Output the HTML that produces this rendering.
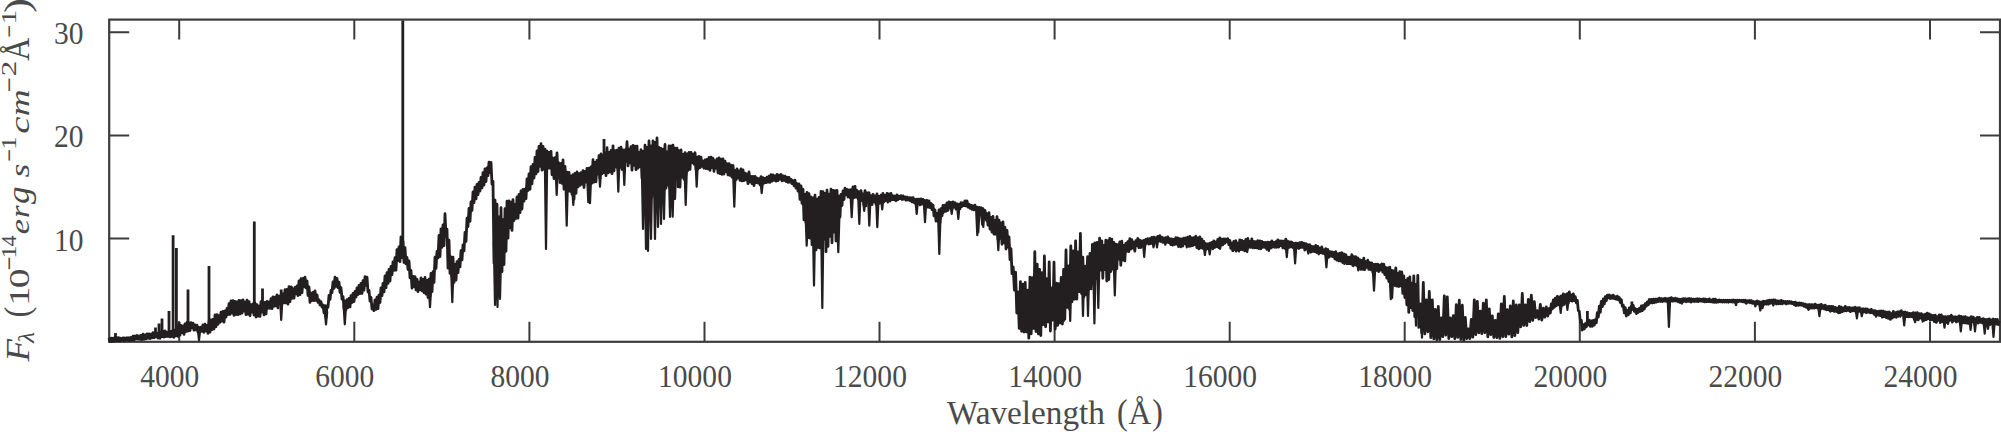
<!DOCTYPE html>
<html><head><meta charset="utf-8"><style>
html,body{margin:0;padding:0;background:#fff;width:2001px;height:432px;overflow:hidden}
svg{display:block}
text{font-family:"Liberation Serif",serif;fill:#4a4a4a}
</style></head><body>
<svg width="2001" height="432" viewBox="0 0 2001 432" font-size="30">
<rect x="109.2" y="19.6" width="1890.8" height="322.2" fill="none" stroke="#3c3c3c" stroke-width="2.2"/><path d="M179.2 341.8V321.8M179.2 19.6V39.6M354.3 341.8V321.8M354.3 19.6V39.6M529.4 341.8V321.8M529.4 19.6V39.6M704.5 341.8V321.8M704.5 19.6V39.6M879.5 341.8V321.8M879.5 19.6V39.6M1054.6 341.8V321.8M1054.6 19.6V39.6M1229.7 341.8V321.8M1229.7 19.6V39.6M1404.7 341.8V321.8M1404.7 19.6V39.6M1579.8 341.8V321.8M1579.8 19.6V39.6M1754.9 341.8V321.8M1754.9 19.6V39.6M1930.0 341.8V321.8M1930.0 19.6V39.6M109.2 238.6H129.2M2000.0 238.6H1980.0M109.2 135.4H129.2M2000.0 135.4H1980.0M109.2 32.2H129.2M2000.0 32.2H1980.0" stroke="#3c3c3c" stroke-width="2" fill="none"/><text x="169.7" y="387" text-anchor="middle" font-size="31" textLength="59.0" lengthAdjust="spacingAndGlyphs">4000</text><text x="344.8" y="387" text-anchor="middle" font-size="31" textLength="59.0" lengthAdjust="spacingAndGlyphs">6000</text><text x="519.9" y="387" text-anchor="middle" font-size="31" textLength="59.0" lengthAdjust="spacingAndGlyphs">8000</text><text x="695.0" y="387" text-anchor="middle" font-size="31" textLength="73.8" lengthAdjust="spacingAndGlyphs">10000</text><text x="870.0" y="387" text-anchor="middle" font-size="31" textLength="73.8" lengthAdjust="spacingAndGlyphs">12000</text><text x="1045.1" y="387" text-anchor="middle" font-size="31" textLength="73.8" lengthAdjust="spacingAndGlyphs">14000</text><text x="1220.2" y="387" text-anchor="middle" font-size="31" textLength="73.8" lengthAdjust="spacingAndGlyphs">16000</text><text x="1395.2" y="387" text-anchor="middle" font-size="31" textLength="73.8" lengthAdjust="spacingAndGlyphs">18000</text><text x="1570.3" y="387" text-anchor="middle" font-size="31" textLength="73.8" lengthAdjust="spacingAndGlyphs">20000</text><text x="1745.4" y="387" text-anchor="middle" font-size="31" textLength="73.8" lengthAdjust="spacingAndGlyphs">22000</text><text x="1920.5" y="387" text-anchor="middle" font-size="31" textLength="73.8" lengthAdjust="spacingAndGlyphs">24000</text><text x="83.5" y="250.6" text-anchor="end" font-size="31" textLength="29.5" lengthAdjust="spacingAndGlyphs">10</text><text x="83.5" y="147.4" text-anchor="end" font-size="31" textLength="29.5" lengthAdjust="spacingAndGlyphs">20</text><text x="83.5" y="44.2" text-anchor="end" font-size="31" textLength="29.5" lengthAdjust="spacingAndGlyphs">30</text><g transform="translate(28.5,361) rotate(-90)"><g transform="translate(-0.80,0.00) scale(1.222,1.110)"><text x="0.16" y="0" font-size="30" font-style="italic">F</text></g><g transform="translate(17.30,5.80) scale(0.848,0.791)"><text x="0.73" y="0" font-size="30" font-style="italic">λ</text></g><g transform="translate(45.00,0.70) scale(1.090,1.224)"><text x="-1.32" y="0" font-size="30">(</text></g><g transform="translate(58.70,0.00) scale(1.278,1.010)"><text x="-2.64" y="0" font-size="30">1</text></g><g transform="translate(74.30,0.00) scale(1.313,1.003)"><text x="-1.14" y="0" font-size="30">0</text></g><g transform="translate(92.00,-9.44) scale(0.824,1.000)"><text x="-1.49" y="0" font-size="30">−</text></g><g transform="translate(104.50,-12.90) scale(0.899,0.687)"><text x="-2.64" y="0" font-size="30">1</text></g><g transform="translate(115.00,-12.90) scale(0.746,0.689)"><text x="-0.59" y="0" font-size="30">4</text></g><g transform="translate(127.70,0.00) scale(1.152,0.880)"><text x="-0.92" y="0" font-size="30" font-style="italic">e</text></g><g transform="translate(144.30,0.00) scale(1.090,0.884)"><text x="-1.22" y="0" font-size="30" font-style="italic">r</text></g><g transform="translate(157.00,0.00) scale(1.170,1.068)"><text x="-0.01" y="0" font-size="30" font-style="italic">g</text></g><g transform="translate(184.00,0.00) scale(1.192,0.880)"><text x="-0.37" y="0" font-size="30" font-style="italic">s</text></g><g transform="translate(200.60,-9.44) scale(0.745,1.000)"><text x="-1.49" y="0" font-size="30">−</text></g><g transform="translate(213.50,-12.90) scale(0.899,0.687)"><text x="-2.64" y="0" font-size="30">1</text></g><g transform="translate(228.50,0.00) scale(1.292,0.880)"><text x="-0.92" y="0" font-size="30" font-style="italic">c</text></g><g transform="translate(246.20,0.00) scale(1.242,0.884)"><text x="-1.08" y="0" font-size="30" font-style="italic">m</text></g><g transform="translate(270.20,-9.44) scale(0.895,1.000)"><text x="-1.49" y="0" font-size="30">−</text></g><g transform="translate(286.00,-12.90) scale(1.039,0.685)"><text x="-1.32" y="0" font-size="30">2</text></g><g transform="translate(300.60,0.00) scale(1.064,1.167)"><text x="-0.29" y="0" font-size="30">Å</text></g><g transform="translate(324.50,-9.44) scale(0.752,1.000)"><text x="-1.49" y="0" font-size="30">−</text></g><g transform="translate(339.10,-12.90) scale(0.985,0.687)"><text x="-2.64" y="0" font-size="30">1</text></g><g transform="translate(349.50,0.70) scale(1.493,1.187)"><text x="-0.97" y="0" font-size="30">)</text></g></g><g transform="translate(947,423.6) scale(1.0,1.0)"><text x="-0.03" y="0" font-size="33" textLength="157.9" lengthAdjust="spacingAndGlyphs">Wavelength</text></g><g transform="translate(1118.50,423.70) scale(1.064,1.202)"><text x="-1.32" y="0" font-size="30">(</text></g><g transform="translate(1128.80,423.60) scale(1.054,1.151)"><text x="-0.29" y="0" font-size="30">Å</text></g><g transform="translate(1153.30,423.70) scale(1.064,1.202)"><text x="-0.97" y="0" font-size="30">)</text></g><path d="M109.0 337.8 110.0 341.4 111.0 338.2 112.0 341.5 113.0 338.1 114.0 341.1 115.0 337.5 116.0 340.9 117.0 337.6 118.0 340.9 119.0 337.8 120.0 341.1 121.0 338.3 122.0 340.3 123.0 337.9 124.0 340.7 125.0 338.0 126.0 339.8 127.0 337.7 128.0 340.2 129.0 337.8 130.0 340.5 131.0 337.4 132.0 340.0 133.0 336.2 134.0 340.1 135.0 336.0 136.0 339.0 137.0 335.5 138.0 339.2 139.0 335.9 140.0 339.3 141.0 335.4 142.0 339.7 143.0 334.2 144.0 339.3 145.0 334.9 146.0 338.8 147.0 333.9 148.0 338.3 149.0 333.8 150.0 338.7 151.0 334.1 152.0 337.8 153.0 332.6 154.0 337.8 155.0 332.9 156.0 337.0 157.0 333.0 158.0 338.1 159.0 333.3 160.0 338.3 161.0 331.8 162.0 336.7 163.0 331.1 164.0 337.1 165.0 330.8 166.0 336.5 167.0 332.2 168.0 336.5 169.0 332.4 170.0 336.9 171.0 331.5 172.0 336.6 173.0 330.2 174.0 337.4 175.0 330.2 176.0 335.9 177.0 326.6 178.0 336.4 179.0 322.7 180.0 335.0 181.0 325.4 182.0 332.6 183.0 325.8 184.0 334.4 185.0 323.8 186.0 331.7 187.0 322.5 188.0 331.1 189.0 322.9 190.0 330.7 191.0 322.6 192.0 327.9 193.0 323.2 194.0 330.2 195.0 324.8 196.0 329.9 197.0 325.2 198.0 332.0 199.0 327.3 200.0 331.5 201.0 327.1 202.0 331.3 203.0 324.8 204.0 332.4 205.0 324.1 206.0 330.8 207.0 325.3 208.0 333.3 209.0 321.5 210.0 332.2 211.0 319.8 212.0 329.6 213.0 319.4 214.0 328.9 215.0 315.0 216.0 326.6 217.0 314.7 218.0 324.4 219.0 315.6 220.0 322.3 221.0 312.2 222.0 321.1 223.0 311.4 224.0 322.1 225.0 310.9 226.0 317.0 227.0 308.3 228.0 314.7 229.0 303.6 230.0 314.4 231.0 300.9 232.0 313.0 233.0 300.7 234.0 315.3 235.0 301.4 236.0 314.5 237.0 301.9 238.0 314.7 239.0 300.4 240.0 313.9 241.0 300.6 242.0 313.2 243.0 299.8 244.0 311.0 245.0 302.1 246.0 314.7 247.0 300.1 248.0 314.1 249.0 301.6 250.0 315.7 251.0 304.7 252.0 312.0 253.0 303.8 254.0 314.9 255.0 303.0 256.0 317.0 257.0 304.7 258.0 316.2 259.0 306.1 260.0 316.3 261.0 301.6 262.0 312.2 263.0 303.1 264.0 314.8 265.0 302.3 266.0 313.8 267.0 301.4 268.0 308.4 269.0 301.8 270.0 308.3 271.0 298.6 272.0 308.7 273.0 296.9 274.0 306.4 275.0 297.1 276.0 305.8 277.0 294.9 278.0 307.9 279.0 296.1 280.0 303.5 281.0 295.1 282.0 303.6 283.0 293.9 284.0 302.8 285.0 289.7 286.0 302.8 287.0 289.4 288.0 304.1 289.0 286.7 290.0 301.7 291.0 286.9 292.0 298.4 293.0 289.1 294.0 298.1 295.0 287.5 296.0 293.8 297.0 286.0 298.0 295.5 299.0 280.8 300.0 294.7 301.0 278.7 302.0 292.6 303.0 278.4 304.0 286.8 305.0 277.2 306.0 287.9 307.0 280.8 308.0 295.5 309.0 287.0 310.0 302.4 311.0 293.2 312.0 300.6 313.0 292.3 314.0 300.7 315.0 290.8 316.0 300.4 317.0 294.8 318.0 302.3 319.0 299.7 320.0 305.0 321.0 301.7 322.0 307.0 323.0 304.9 324.0 312.8 325.0 305.7 326.0 317.1 327.0 305.6 328.0 307.2 329.0 295.3 330.0 299.5 331.0 290.5 332.0 292.5 333.0 281.9 334.0 288.4 335.0 277.2 336.0 286.3 337.0 278.5 338.0 287.5 339.0 282.1 340.0 292.3 341.0 287.5 342.0 299.1 343.0 296.5 344.0 308.2 345.0 301.1 346.0 309.8 347.0 299.7 348.0 307.6 349.0 298.3 350.0 306.9 351.0 295.6 352.0 302.5 353.0 293.5 354.0 301.6 355.0 291.4 356.0 297.2 357.0 287.8 358.0 294.5 359.0 285.4 360.0 293.6 361.0 283.3 362.0 293.3 363.0 280.7 364.0 290.2 365.0 276.7 366.0 285.4 367.0 277.2 368.0 292.0 369.0 290.2 370.0 301.2 371.0 297.4 372.0 309.0 373.0 304.9 374.0 310.7 375.0 299.9 376.0 309.4 377.0 297.1 378.0 308.6 379.0 295.2 380.0 302.5 381.0 287.8 382.0 295.6 383.0 283.4 384.0 291.9 385.0 276.0 386.0 287.6 387.0 272.6 388.0 283.3 389.0 269.4 390.0 281.0 391.0 266.4 392.0 274.6 393.0 261.8 394.0 270.4 395.0 257.6 396.0 270.2 397.0 249.6 398.0 260.5 399.0 246.9 400.0 261.6 401.0 236.9 402.0 257.7 403.0 241.5 404.0 262.5 405.0 247.7 406.0 263.8 407.0 257.5 408.0 269.3 409.0 260.9 410.0 277.8 411.0 270.3 412.0 288.2 413.0 276.5 414.0 286.7 415.0 276.7 416.0 289.8 417.0 279.2 418.0 291.7 419.0 282.1 420.0 289.5 421.0 277.9 422.0 290.8 423.0 279.5 424.0 292.7 425.0 277.5 426.0 294.2 427.0 280.4 428.0 297.5 429.0 279.2 430.0 296.1 431.0 273.4 432.0 291.7 433.0 271.7 434.0 282.4 435.0 257.2 436.0 268.4 437.0 251.3 438.0 257.9 439.0 235.5 440.0 256.5 441.0 228.9 442.0 247.3 443.0 224.8 444.0 245.6 445.0 213.7 446.0 236.4 447.0 229.2 448.0 268.2 449.0 240.2 450.0 273.4 451.0 256.8 452.0 276.7 453.0 257.2 454.0 282.3 455.0 264.3 456.0 280.1 457.0 261.7 458.0 272.7 459.0 259.3 460.0 266.8 461.0 250.6 462.0 259.8 463.0 244.9 464.0 250.9 465.0 232.3 466.0 241.4 467.0 218.2 468.0 226.5 469.0 208.4 470.0 221.3 471.0 201.9 472.0 210.3 473.0 192.0 474.0 202.6 475.0 187.2 476.0 198.8 477.0 184.4 478.0 194.6 479.0 182.5 480.0 191.0 481.0 177.3 482.0 187.8 483.0 172.7 484.0 185.0 485.0 168.9 486.0 181.5 487.0 167.9 488.0 175.6 489.0 162.2 490.0 172.5 491.0 162.3 492.0 184.1 493.0 181.2 494.0 263.2 495.0 200.1 496.0 274.8 497.0 204.2 498.0 289.2 499.0 216.8 500.0 272.4 501.0 207.7 502.0 271.7 503.0 219.7 504.0 264.5 505.0 208.6 506.0 251.3 507.0 201.2 508.0 238.1 509.0 200.9 510.0 227.8 511.0 202.1 512.0 230.4 513.0 199.6 514.0 220.5 515.0 204.4 516.0 218.4 517.0 196.8 518.0 218.2 519.0 194.4 520.0 212.7 521.0 190.9 522.0 209.0 523.0 189.3 524.0 201.2 525.0 189.1 526.0 198.7 527.0 178.9 528.0 190.5 529.0 174.0 530.0 189.3 531.0 166.6 532.0 183.8 533.0 164.4 534.0 178.0 535.0 157.4 536.0 173.9 537.0 150.9 538.0 171.5 539.0 146.4 540.0 166.4 541.0 143.7 542.0 170.2 543.0 146.3 544.0 169.3 545.0 149.1 546.0 167.6 547.0 151.2 548.0 168.1 549.0 152.5 550.0 168.1 551.0 151.3 552.0 174.8 553.0 158.1 554.0 178.6 555.0 157.6 556.0 176.9 557.0 152.9 558.0 177.7 559.0 162.9 560.0 182.5 561.0 163.5 562.0 183.4 563.0 159.9 564.0 189.3 565.0 166.3 566.0 188.9 567.0 172.1 568.0 190.8 569.0 172.4 570.0 191.3 571.0 175.9 572.0 194.2 573.0 174.6 574.0 199.1 575.0 173.3 576.0 193.3 577.0 172.0 578.0 186.9 579.0 173.6 580.0 185.3 581.0 172.7 582.0 184.2 583.0 170.7 584.0 187.5 585.0 171.4 586.0 182.2 587.0 168.3 588.0 182.7 589.0 168.2 590.0 185.1 591.0 167.0 592.0 183.1 593.0 159.7 594.0 182.1 595.0 162.4 596.0 181.8 597.0 160.3 598.0 174.0 599.0 155.7 600.0 178.5 601.0 153.8 602.0 173.8 603.0 155.4 604.0 172.6 605.0 153.0 606.0 175.6 607.0 147.7 608.0 172.9 609.0 152.4 610.0 171.9 611.0 150.5 612.0 173.7 613.0 145.9 614.0 170.9 615.0 150.6 616.0 166.8 617.0 150.2 618.0 169.4 619.0 148.2 620.0 167.3 621.0 147.2 622.0 169.5 623.0 150.0 624.0 168.2 625.0 150.0 626.0 161.4 627.0 141.7 628.0 165.9 629.0 149.1 630.0 162.8 631.0 146.7 632.0 170.1 633.0 145.4 634.0 165.3 635.0 146.1 636.0 169.8 637.0 146.1 638.0 168.1 639.0 152.3 640.0 166.7 641.0 149.6 642.0 178.3 643.0 151.3 644.0 183.6 645.0 145.1 646.0 184.8 647.0 147.4 648.0 202.1 649.0 140.9 650.0 195.1 651.0 145.8 652.0 196.9 653.0 141.0 654.0 194.2 655.0 142.3 656.0 183.4 657.0 138.0 658.0 183.3 659.0 147.3 660.0 192.5 661.0 148.5 662.0 182.6 663.0 149.2 664.0 189.8 665.0 144.5 666.0 188.2 667.0 151.9 668.0 185.2 669.0 145.8 670.0 187.9 671.0 145.8 672.0 192.7 673.0 145.2 674.0 180.3 675.0 148.1 676.0 178.4 677.0 148.1 678.0 186.8 679.0 150.7 680.0 187.1 681.0 149.8 682.0 177.3 683.0 154.5 684.0 179.3 685.0 152.7 686.0 174.5 687.0 154.0 688.0 170.3 689.0 152.3 690.0 169.3 691.0 152.4 692.0 162.7 693.0 154.1 694.0 164.0 695.0 152.6 696.0 169.3 697.0 157.1 698.0 168.8 699.0 156.3 700.0 167.7 701.0 157.2 702.0 166.3 703.0 161.1 704.0 168.2 705.0 160.0 706.0 168.7 707.0 159.4 708.0 168.9 709.0 157.5 710.0 170.4 711.0 157.2 712.0 167.5 713.0 158.2 714.0 171.4 715.0 160.6 716.0 168.0 717.0 158.8 718.0 172.9 719.0 157.9 720.0 173.7 721.0 159.1 722.0 174.3 723.0 159.0 724.0 174.0 725.0 161.1 726.0 171.5 727.0 163.6 728.0 174.9 729.0 163.6 730.0 175.3 731.0 165.1 732.0 177.1 733.0 165.5 734.0 178.3 735.0 170.4 736.0 179.6 737.0 169.0 738.0 178.1 739.0 170.8 740.0 180.4 741.0 168.8 742.0 180.8 743.0 169.8 744.0 180.6 745.0 173.1 746.0 179.8 747.0 174.0 748.0 183.7 749.0 172.0 750.0 181.9 751.0 176.3 752.0 183.5 753.0 176.5 754.0 185.6 755.0 176.3 756.0 182.7 757.0 178.0 758.0 183.0 759.0 178.7 760.0 184.9 761.0 176.6 762.0 185.1 763.0 177.6 764.0 183.2 765.0 178.3 766.0 182.7 767.0 177.1 768.0 182.2 769.0 176.2 770.0 182.4 771.0 174.7 772.0 181.2 773.0 175.0 774.0 180.3 775.0 175.8 776.0 181.2 777.0 174.3 778.0 180.7 779.0 175.2 780.0 179.1 781.0 174.3 782.0 180.9 783.0 175.8 784.0 180.4 785.0 176.2 786.0 181.5 787.0 177.2 788.0 182.4 789.0 177.3 790.0 182.1 791.0 179.4 792.0 183.6 793.0 180.5 794.0 185.8 795.0 180.2 796.0 188.2 797.0 183.5 798.0 191.0 799.0 184.0 800.0 199.4 801.0 186.0 802.0 203.3 803.0 189.1 804.0 219.9 805.0 194.3 806.0 222.7 807.0 192.3 808.0 237.6 809.0 193.7 810.0 238.1 811.0 196.8 812.0 244.8 813.0 197.8 814.0 240.3 815.0 195.2 816.0 249.9 817.0 199.2 818.0 247.5 819.0 197.3 820.0 248.0 821.0 191.3 822.0 241.0 823.0 191.7 824.0 239.0 825.0 193.4 826.0 251.7 827.0 190.2 828.0 246.4 829.0 194.1 830.0 236.4 831.0 189.2 832.0 242.8 833.0 190.5 834.0 232.1 835.0 190.6 836.0 241.0 837.0 190.4 838.0 231.5 839.0 196.1 840.0 217.0 841.0 194.3 842.0 205.5 843.0 190.9 844.0 199.5 845.0 188.1 846.0 194.6 847.0 189.3 848.0 197.0 849.0 189.8 850.0 197.3 851.0 189.7 852.0 198.2 853.0 186.9 854.0 197.6 855.0 186.3 856.0 197.0 857.0 190.3 858.0 198.7 859.0 191.7 860.0 200.1 861.0 190.7 862.0 200.7 863.0 193.8 864.0 205.5 865.0 190.7 866.0 205.9 867.0 193.0 868.0 202.1 869.0 192.7 870.0 203.2 871.0 195.7 872.0 204.5 873.0 194.3 874.0 201.8 875.0 195.9 876.0 204.4 877.0 193.8 878.0 204.2 879.0 196.3 880.0 203.0 881.0 195.2 882.0 200.3 883.0 193.3 884.0 201.9 885.0 195.3 886.0 200.6 887.0 193.5 888.0 200.1 889.0 193.9 890.0 201.1 891.0 193.4 892.0 199.7 893.0 195.8 894.0 199.8 895.0 196.0 896.0 200.8 897.0 194.8 898.0 199.6 899.0 196.3 900.0 198.6 901.0 195.6 902.0 199.5 903.0 195.9 904.0 199.2 905.0 196.9 906.0 200.2 907.0 197.2 908.0 200.0 909.0 197.6 910.0 200.6 911.0 197.7 912.0 201.9 913.0 197.6 914.0 202.6 915.0 199.3 916.0 204.1 917.0 199.1 918.0 203.4 919.0 199.2 920.0 204.9 921.0 198.8 922.0 204.1 923.0 199.4 924.0 203.5 925.0 200.5 926.0 204.1 927.0 200.3 928.0 207.2 929.0 201.0 930.0 207.5 931.0 203.3 932.0 209.5 933.0 205.0 934.0 215.8 935.0 210.0 936.0 221.0 937.0 213.5 938.0 221.4 939.0 209.9 940.0 222.7 941.0 208.6 942.0 215.9 943.0 205.5 944.0 211.6 945.0 205.1 946.0 211.3 947.0 202.9 948.0 210.4 949.0 201.9 950.0 207.8 951.0 202.3 952.0 208.7 953.0 201.9 954.0 207.1 955.0 202.7 956.0 209.0 957.0 203.9 958.0 208.2 959.0 204.3 960.0 208.7 961.0 202.7 962.0 206.5 963.0 202.9 964.0 205.6 965.0 200.9 966.0 206.0 967.0 200.9 968.0 207.1 969.0 204.2 970.0 208.3 971.0 205.3 972.0 209.3 973.0 205.8 974.0 209.8 975.0 205.2 976.0 209.8 977.0 207.1 978.0 212.0 979.0 207.4 980.0 211.9 981.0 207.7 982.0 213.3 983.0 208.5 984.0 215.8 985.0 210.4 986.0 219.2 987.0 213.6 988.0 225.2 989.0 212.7 990.0 229.2 991.0 217.5 992.0 232.1 993.0 216.5 994.0 234.2 995.0 220.5 996.0 234.2 997.0 216.7 998.0 239.5 999.0 220.1 1000.0 238.4 1001.0 223.0 1002.0 244.3 1003.0 222.0 1004.0 242.8 1005.0 227.5 1006.0 249.0 1007.0 230.3 1008.0 247.2 1009.0 236.8 1010.0 259.6 1011.0 248.7 1012.0 273.6 1013.2 267.0 1014.4 290.1 1015.6 272.1 1016.8 313.0 1018.0 291.9 1019.2 328.4 1020.4 281.6 1021.6 331.3 1022.8 284.2 1024.0 332.0 1025.2 282.3 1026.4 331.9 1027.6 290.2 1028.8 338.2 1030.0 277.1 1031.2 333.8 1032.4 277.6 1033.6 328.4 1034.8 251.7 1036.0 331.6 1037.2 264.2 1038.4 333.9 1039.6 269.5 1040.8 335.5 1042.0 272.6 1043.2 324.6 1044.4 255.9 1045.6 326.8 1046.8 278.7 1048.0 321.9 1049.2 262.0 1050.4 331.0 1051.6 288.0 1052.8 320.0 1054.0 262.1 1055.2 329.0 1056.4 283.1 1057.6 325.3 1058.8 283.6 1060.0 323.0 1061.2 277.3 1062.4 324.0 1063.6 269.3 1064.8 319.3 1066.0 249.9 1067.2 307.4 1068.4 265.9 1069.6 309.1 1070.8 245.8 1072.0 301.8 1073.2 251.0 1074.4 299.2 1075.6 240.8 1076.8 299.1 1078.0 252.0 1079.2 291.5 1080.4 233.5 1081.6 293.6 1082.8 257.1 1084.0 296.8 1085.2 266.2 1086.4 294.5 1087.6 256.7 1088.8 289.4 1090.0 253.4 1091.2 288.9 1092.4 244.5 1093.6 284.0 1094.8 242.9 1096.0 278.8 1097.2 242.4 1098.4 275.7 1099.6 238.2 1100.8 270.1 1101.8 240.9 1102.8 278.3 1103.8 245.5 1104.8 269.7 1105.8 240.1 1106.8 281.0 1107.8 240.7 1108.8 279.5 1109.8 238.5 1110.8 271.5 1111.8 239.1 1112.8 269.0 1113.8 242.3 1114.8 271.9 1115.8 244.1 1116.8 268.8 1117.8 244.7 1118.8 259.2 1119.8 241.8 1120.8 265.3 1121.8 241.2 1122.8 260.2 1123.8 245.4 1124.8 260.8 1125.8 243.5 1126.8 251.4 1127.8 241.7 1128.8 251.6 1129.8 238.6 1130.8 249.1 1131.8 239.6 1132.8 248.0 1133.8 242.1 1134.8 251.0 1135.8 240.7 1136.8 245.7 1137.8 238.4 1138.8 247.5 1139.8 240.2 1140.8 247.6 1141.8 240.9 1142.8 246.3 1143.8 240.4 1144.8 245.7 1145.8 239.5 1146.8 243.2 1147.8 238.6 1148.8 244.1 1149.8 238.7 1150.8 243.6 1151.8 237.3 1152.8 243.4 1153.8 237.1 1154.8 241.5 1155.8 237.8 1156.8 241.1 1157.8 236.3 1158.8 240.9 1159.8 235.7 1160.8 241.4 1161.8 237.1 1162.8 242.4 1163.8 238.0 1164.8 242.5 1165.8 237.7 1166.8 242.3 1167.8 237.0 1168.8 242.6 1169.8 238.6 1170.8 244.5 1171.8 239.0 1172.8 245.1 1173.8 239.5 1174.8 244.5 1175.8 237.7 1176.8 244.2 1177.8 237.8 1178.8 246.3 1179.8 238.6 1180.8 246.9 1181.8 238.9 1182.8 246.0 1183.8 238.2 1184.8 243.6 1185.8 238.0 1186.8 244.5 1187.8 237.2 1188.8 246.4 1189.8 236.3 1190.8 246.1 1191.8 238.0 1192.8 245.7 1193.8 237.6 1194.8 244.5 1195.8 236.2 1196.8 247.5 1197.8 238.0 1198.8 248.8 1199.8 236.9 1200.8 247.9 1201.8 239.2 1202.8 248.3 1203.8 241.5 1204.8 248.2 1205.8 243.5 1206.8 249.1 1207.8 243.9 1208.8 248.6 1209.8 243.2 1210.8 247.5 1211.8 242.4 1212.8 248.9 1213.8 240.9 1214.8 247.4 1215.8 241.9 1216.8 246.6 1217.8 239.5 1218.8 247.6 1219.8 237.8 1220.8 245.2 1221.8 239.1 1222.8 244.8 1223.8 238.9 1224.8 243.3 1225.8 239.0 1226.8 241.8 1227.8 238.7 1228.8 244.5 1229.8 240.3 1230.8 248.4 1231.8 243.2 1232.8 250.7 1233.8 241.5 1234.8 249.0 1235.8 240.7 1236.8 249.8 1237.8 243.2 1238.8 251.2 1239.8 239.9 1240.8 249.5 1241.8 240.5 1242.8 249.4 1243.8 241.4 1244.8 250.9 1245.8 239.4 1246.8 249.9 1247.8 238.5 1248.8 247.2 1249.8 241.3 1250.8 247.4 1251.8 238.8 1252.8 246.8 1253.8 241.4 1254.8 247.9 1255.8 241.7 1256.8 247.8 1257.8 240.6 1258.8 248.6 1259.8 241.0 1260.8 248.8 1261.8 241.3 1262.8 247.3 1263.8 242.3 1264.8 247.4 1265.8 242.4 1266.8 249.3 1267.8 242.1 1268.8 248.9 1269.8 242.5 1270.8 248.0 1271.8 240.8 1272.8 247.0 1273.8 242.3 1274.8 247.3 1275.8 241.7 1276.8 247.1 1277.8 240.0 1278.8 247.1 1279.8 241.0 1280.8 245.6 1281.8 240.8 1282.8 247.9 1283.8 241.1 1284.8 248.4 1285.8 239.1 1286.8 246.6 1287.8 241.1 1288.8 247.5 1289.8 241.9 1290.8 246.9 1291.8 242.0 1292.8 247.5 1293.8 243.3 1294.8 247.6 1295.8 243.1 1296.8 247.8 1297.8 243.3 1298.8 248.5 1299.8 242.6 1300.8 247.6 1301.8 242.3 1302.8 247.4 1303.8 243.1 1304.8 250.0 1305.8 243.6 1306.8 248.8 1307.8 244.7 1308.8 251.3 1309.8 244.6 1310.8 252.2 1311.8 246.4 1312.8 251.4 1313.8 246.7 1314.8 251.7 1315.8 245.3 1316.8 252.6 1317.8 246.4 1318.8 252.5 1319.8 248.2 1320.8 252.8 1321.8 247.0 1322.8 253.4 1323.8 249.9 1324.8 253.8 1325.8 248.6 1326.8 256.1 1327.8 249.3 1328.8 257.3 1329.8 251.7 1330.8 256.1 1331.8 251.8 1332.8 256.7 1333.8 252.4 1334.8 258.8 1335.8 251.6 1336.8 260.2 1337.8 253.9 1338.8 260.9 1339.8 253.1 1340.8 261.2 1341.8 252.7 1342.8 262.7 1343.8 253.9 1344.8 261.9 1345.8 254.7 1346.8 263.7 1347.8 257.1 1348.8 263.7 1349.8 257.2 1350.8 263.9 1351.8 254.7 1352.8 265.3 1353.8 256.6 1354.8 264.7 1355.8 256.7 1356.8 265.7 1357.8 257.8 1358.8 268.4 1359.8 259.6 1360.8 269.4 1361.8 260.3 1362.8 269.4 1363.8 258.1 1364.8 269.6 1365.8 261.7 1366.8 267.4 1367.8 260.2 1368.8 269.3 1369.8 262.7 1370.8 269.6 1371.8 262.8 1372.8 272.0 1373.8 264.4 1374.8 271.5 1375.8 264.2 1376.8 270.4 1377.8 264.2 1378.8 271.6 1379.8 265.1 1380.8 270.0 1381.8 263.8 1382.8 272.0 1383.8 264.1 1384.8 274.7 1385.8 267.5 1386.8 278.0 1387.8 268.0 1388.8 281.5 1389.8 267.2 1390.8 281.9 1391.8 270.4 1392.8 284.3 1393.8 270.8 1394.8 285.5 1395.8 267.8 1396.8 286.1 1397.8 273.5 1398.8 286.5 1399.8 271.6 1400.8 285.9 1401.8 272.0 1402.8 293.4 1403.8 276.0 1404.8 297.5 1405.8 280.5 1406.8 304.8 1407.8 278.3 1408.8 312.4 1409.8 277.0 1410.8 307.6 1411.8 283.2 1412.8 310.5 1413.8 275.8 1414.8 316.7 1415.8 284.5 1416.8 316.4 1417.8 275.4 1418.8 327.4 1420.3 304.0 1421.8 332.9 1423.3 282.5 1424.8 333.9 1426.3 299.8 1427.8 331.8 1429.3 291.5 1430.8 337.6 1432.3 299.9 1433.8 338.9 1435.3 309.3 1436.8 339.8 1438.3 306.5 1439.8 339.6 1441.3 318.0 1442.8 336.6 1444.3 295.9 1445.8 335.2 1447.3 296.8 1448.8 338.5 1450.3 317.8 1451.8 336.6 1453.3 315.7 1454.8 338.6 1456.3 304.7 1457.8 337.4 1459.3 300.2 1460.8 339.5 1462.3 305.2 1463.8 340.5 1465.3 317.4 1466.8 338.6 1468.3 329.0 1469.8 338.6 1471.3 319.3 1472.8 337.1 1474.3 299.8 1475.8 334.7 1477.3 301.3 1478.8 332.8 1480.3 311.1 1481.8 333.7 1483.3 303.2 1484.8 332.8 1486.3 299.8 1487.8 336.8 1489.3 309.0 1490.8 334.7 1492.3 315.9 1493.8 337.5 1495.3 320.4 1496.8 337.6 1498.3 313.8 1499.8 338.4 1501.3 304.0 1502.8 336.6 1504.3 296.5 1505.8 336.6 1507.3 309.7 1508.8 334.2 1510.3 305.8 1511.8 336.9 1513.3 301.0 1514.8 335.7 1516.3 305.0 1517.8 332.7 1519.3 304.8 1520.8 326.8 1522.3 293.5 1523.8 325.4 1525.3 304.8 1526.8 325.5 1528.3 299.5 1529.8 321.6 1531.3 295.1 1532.8 320.4 1534.3 301.6 1535.8 317.5 1537.3 310.6 1538.8 319.1 1540.3 304.4 1541.8 320.0 1543.3 308.1 1544.8 317.2 1546.3 306.9 1547.8 316.1 1549.3 308.3 1550.3 313.1 1551.3 303.8 1552.3 309.0 1553.3 299.9 1554.3 307.3 1555.3 298.1 1556.3 305.9 1557.3 296.5 1558.3 304.6 1559.3 296.9 1560.3 307.5 1561.3 295.9 1562.3 305.4 1563.3 294.0 1564.3 304.4 1565.3 294.7 1566.3 302.5 1567.3 293.7 1568.3 303.1 1569.3 291.9 1570.3 300.5 1571.3 295.0 1572.3 301.2 1573.3 293.8 1574.3 300.6 1575.3 296.7 1576.3 302.8 1577.3 300.4 1578.3 310.6 1579.3 311.2 1580.3 321.8 1581.3 320.1 1582.3 330.1 1583.3 324.6 1584.3 329.0 1585.3 323.6 1586.3 326.9 1587.3 320.7 1588.3 325.0 1589.3 320.2 1590.3 326.3 1591.3 320.8 1592.3 326.3 1593.3 320.5 1594.3 325.1 1595.3 319.6 1596.3 322.8 1597.3 312.7 1598.3 317.2 1599.3 306.1 1600.3 312.4 1601.3 301.5 1602.3 306.7 1603.3 298.8 1604.3 304.0 1605.3 296.7 1606.3 300.7 1607.3 295.1 1608.3 297.9 1609.3 295.0 1610.3 298.6 1611.3 295.8 1612.3 298.2 1613.3 295.1 1614.3 298.6 1615.3 296.7 1616.3 299.3 1617.3 296.2 1618.3 299.9 1619.3 297.5 1620.3 302.6 1621.3 299.6 1622.3 306.2 1623.3 305.3 1624.3 312.9 1625.3 307.7 1626.3 316.1 1627.3 310.5 1628.3 314.8 1629.3 308.0 1630.3 313.0 1631.3 306.3 1632.3 309.4 1633.3 305.4 1634.3 311.3 1635.3 308.6 1636.3 313.6 1637.3 309.3 1638.3 312.3 1639.3 308.4 1640.3 311.4 1641.3 306.0 1642.3 310.7 1643.3 305.5 1644.3 309.1 1645.3 303.6 1646.3 306.3 1647.3 301.9 1648.3 304.7 1649.3 299.5 1650.3 303.0 1651.3 299.4 1652.3 303.0 1653.3 299.2 1654.3 302.7 1655.3 299.1 1656.3 302.1 1657.3 299.0 1658.3 301.5 1659.3 298.2 1660.3 301.3 1661.3 298.6 1662.3 301.6 1663.3 298.7 1664.3 301.0 1665.3 298.2 1666.3 301.4 1667.3 298.8 1668.3 301.7 1669.3 298.3 1670.3 301.0 1671.3 297.6 1672.3 301.2 1673.3 298.6 1674.3 300.9 1675.3 298.3 1676.3 301.0 1677.3 298.7 1678.3 301.8 1679.3 299.3 1680.3 302.5 1681.3 299.2 1682.3 301.7 1683.3 298.6 1684.3 301.3 1685.3 298.7 1686.3 301.7 1687.3 298.9 1688.3 301.3 1689.3 298.5 1690.3 301.6 1691.3 298.7 1692.3 301.3 1693.3 299.1 1694.3 301.5 1695.3 299.1 1696.3 301.4 1697.3 298.8 1698.3 301.6 1699.3 298.9 1700.3 301.0 1701.3 299.2 1702.3 301.3 1703.3 298.9 1704.3 301.9 1705.3 299.0 1706.3 301.7 1707.3 299.5 1708.3 301.6 1709.3 298.9 1710.3 301.8 1711.3 299.9 1712.3 302.0 1713.3 299.1 1714.3 302.3 1715.3 299.2 1716.3 302.4 1717.3 300.2 1718.3 302.0 1719.3 300.0 1720.3 301.8 1721.3 300.3 1722.3 302.0 1723.3 300.2 1724.3 302.0 1725.3 300.3 1726.3 302.0 1727.3 300.3 1728.3 302.2 1729.3 300.2 1730.3 301.9 1731.3 300.3 1732.3 302.1 1733.3 299.9 1734.3 302.1 1735.3 300.3 1736.3 301.4 1737.3 300.2 1738.3 301.6 1739.3 300.2 1740.3 301.3 1741.3 300.2 1742.3 301.9 1743.3 300.2 1744.3 302.1 1745.3 300.3 1746.3 302.4 1747.3 300.7 1748.3 302.2 1749.3 300.4 1750.3 302.8 1751.3 300.6 1752.3 303.4 1753.3 301.4 1754.3 303.3 1755.3 301.7 1756.3 303.7 1757.3 301.0 1758.3 304.0 1759.3 301.7 1760.3 303.6 1761.3 302.0 1762.3 304.0 1763.3 301.2 1764.3 304.3 1765.3 301.3 1766.3 304.1 1767.3 300.6 1768.3 304.2 1769.3 300.2 1770.3 303.3 1771.3 300.2 1772.3 302.9 1773.3 299.9 1774.3 302.9 1775.3 300.0 1776.3 304.0 1777.3 300.9 1778.3 303.7 1779.3 301.0 1780.3 303.8 1781.3 300.4 1782.3 303.2 1783.3 301.3 1784.3 303.1 1785.3 301.5 1786.3 303.9 1787.3 301.5 1788.3 303.4 1789.3 301.5 1790.3 303.3 1791.3 301.6 1792.3 303.6 1793.3 302.4 1794.3 304.7 1795.3 302.1 1796.3 304.5 1797.3 303.1 1798.3 305.3 1799.3 302.9 1800.3 305.1 1801.3 303.1 1802.3 305.3 1803.3 303.7 1804.3 306.4 1805.3 304.1 1806.3 307.2 1807.3 304.7 1808.3 308.4 1809.3 304.5 1810.3 308.1 1811.3 304.6 1812.3 308.1 1813.3 304.8 1814.3 308.1 1815.3 304.2 1816.3 307.7 1817.3 305.3 1818.3 308.1 1819.3 305.0 1820.3 309.2 1821.3 304.3 1822.3 308.4 1823.3 305.6 1824.3 309.0 1825.3 305.2 1826.3 309.8 1827.3 306.7 1828.3 309.8 1829.3 306.3 1830.3 311.3 1831.3 306.3 1832.3 310.6 1833.3 306.5 1834.3 311.5 1835.3 307.3 1836.3 311.5 1837.3 308.1 1838.3 312.8 1839.3 306.3 1840.3 312.6 1841.3 307.2 1842.3 311.7 1843.3 307.9 1844.3 310.9 1845.3 306.4 1846.3 310.8 1847.3 307.7 1848.3 310.5 1849.3 307.4 1850.3 311.7 1851.3 308.0 1852.3 310.9 1853.3 307.8 1854.3 310.8 1855.3 307.3 1856.3 312.4 1857.3 307.8 1858.3 311.3 1859.3 307.6 1860.3 311.5 1861.3 309.0 1862.3 312.4 1863.3 308.8 1864.3 311.9 1865.3 308.9 1866.3 312.7 1867.3 309.0 1868.3 312.1 1869.3 310.0 1870.3 312.8 1871.3 309.4 1872.3 312.9 1873.3 310.6 1874.3 314.4 1875.3 310.7 1876.3 314.0 1877.3 311.5 1878.3 315.2 1879.3 311.1 1880.3 315.7 1881.3 310.9 1882.3 317.2 1883.3 311.1 1884.3 316.7 1885.3 311.8 1886.3 317.6 1887.3 312.2 1888.3 318.3 1889.3 311.8 1890.3 319.4 1891.3 313.6 1892.3 318.0 1893.3 311.4 1894.3 316.9 1895.3 312.7 1896.3 317.3 1897.3 312.0 1898.3 316.3 1899.3 311.7 1900.3 316.3 1901.3 310.7 1902.3 314.3 1903.3 312.2 1904.3 315.6 1905.3 312.0 1906.3 316.6 1907.3 312.7 1908.3 316.8 1909.3 313.4 1910.3 316.7 1911.3 313.5 1912.3 316.8 1913.3 312.6 1914.3 319.3 1915.3 312.8 1916.3 319.3 1917.3 312.6 1918.3 319.8 1919.3 313.7 1920.3 318.1 1921.3 313.6 1922.3 318.1 1923.3 314.8 1924.3 320.3 1925.3 314.1 1926.3 319.7 1927.3 313.1 1928.3 318.7 1929.3 313.8 1930.3 320.2 1931.3 315.0 1932.3 319.7 1933.3 315.4 1934.3 321.6 1935.3 315.1 1936.3 322.4 1937.3 316.6 1938.3 320.2 1939.3 314.8 1940.3 322.6 1941.3 315.0 1942.3 321.7 1943.3 316.7 1944.3 320.4 1945.3 316.6 1946.3 322.3 1947.3 316.6 1948.3 320.8 1949.3 316.3 1950.3 320.1 1951.3 315.2 1952.3 322.1 1953.3 316.8 1954.3 320.5 1955.3 316.8 1956.3 322.0 1957.3 316.8 1958.3 321.1 1959.3 315.9 1960.3 322.2 1961.3 316.3 1962.3 322.8 1963.3 317.0 1964.3 322.8 1965.3 316.6 1966.3 323.0 1967.3 317.7 1968.3 323.4 1969.3 317.9 1970.3 323.2 1971.3 316.6 1972.3 321.7 1973.3 317.2 1974.3 321.9 1975.3 318.7 1976.3 322.1 1977.3 317.4 1978.3 323.1 1979.3 317.5 1980.3 322.3 1981.3 319.2 1982.3 323.0 1983.3 318.6 1984.3 323.7 1985.3 319.5 1986.3 323.5 1987.3 319.3 1988.3 324.3 1989.3 318.8 1990.3 324.5 1991.3 319.9 1992.3 323.7 1993.3 319.0 1994.3 323.3 1995.3 319.4 1996.3 324.2 1997.3 319.4 1998.3 324.6 1999.3 320.8" fill="none" stroke="#231f20" stroke-width="2.8" stroke-linejoin="round"/><path d="M115.5 339.5V332.9M155.5 335.3V327.4M159.0 334.9V323.4M162.0 334.6V318.4M169.0 334.1V311.0M173.1 333.5V235.2M176.4 332.6V247.9M188.0 327.5V289.4M209.0 327.4V266.1M254.3 309.7V221.4M262.5 308.7V288.4M281.2 299.4V289.4M291.7 293.6V286.4M300.0 287.4V281.4M402.8 251.2V20.4M604.0 163.0V139.1M1587.4 322.7V311.0M1631.9 307.1V301.4" fill="none" stroke="#231f20" stroke-width="2.8"/><path d="M197.8 329.8L199.0 340.1L200.2 329.8ZM280.1 299.4L281.2 319.9L282.4 299.4ZM324.8 312.0L326.0 324.3L327.2 312.0ZM343.6 306.0L344.8 324.3L346.0 306.0ZM428.8 287.2L430.0 307.2L431.2 287.2ZM451.1 269.0L452.3 302.2L453.5 269.0ZM544.8 158.3L546.0 248.9L547.2 158.3ZM555.5 168.1L556.7 194.9L557.9 168.1ZM572.1 186.8L573.3 204.9L574.5 186.8ZM565.5 181.0L566.7 225.6L567.9 181.0ZM587.1 175.2L588.3 202.2L589.5 175.2ZM588.8 174.3L590.0 203.2L591.2 174.3ZM598.8 166.0L600.0 186.6L601.2 166.0ZM617.1 158.0L618.3 191.6L619.5 158.0ZM623.1 156.0L624.3 184.9L625.5 156.0ZM641.8 166.3L643.0 228.9L644.2 166.3ZM644.8 171.3L646.0 248.9L647.2 171.3ZM646.8 171.9L648.0 250.9L649.2 171.9ZM649.8 171.8L651.0 238.9L652.2 171.8ZM653.8 169.0L655.0 238.9L656.2 169.0ZM656.8 167.2L658.0 226.9L659.2 167.2ZM659.8 166.3L661.0 223.9L662.2 166.3ZM662.8 167.2L664.0 218.9L665.2 167.2ZM668.8 168.5L670.0 216.9L671.2 168.5ZM673.8 168.5L675.0 198.9L676.2 168.5ZM671.5 168.5L672.7 216.6L673.9 168.5ZM684.5 166.9L685.7 204.9L686.9 166.9ZM695.5 160.8L696.7 186.6L697.9 160.8ZM733.1 173.0L734.3 206.6L735.5 173.0ZM760.5 181.0L761.7 193.2L762.9 181.0ZM805.5 212.6L806.7 245.6L807.9 212.6ZM812.8 221.1L814.0 285.6L815.2 221.1ZM821.1 221.2L822.3 307.9L823.5 221.2ZM837.1 212.8L838.3 252.2L839.5 212.8ZM850.5 194.2L851.7 217.2L852.9 194.2ZM858.1 194.2L859.3 223.9L860.5 194.2ZM863.0 199.2L864.2 210.9L865.4 199.2ZM881.0 197.8L882.2 209.4L883.4 197.8ZM886.6 197.5L887.8 202.5L889.0 197.5ZM896.3 197.5L897.5 199.7L898.7 197.5ZM942.1 208.3L943.3 212.9L944.5 208.3ZM981.0 211.0L982.2 224.7L983.4 211.0ZM985.2 216.4L986.4 220.6L987.6 216.4ZM868.1 198.3L869.3 225.6L870.5 198.3ZM876.1 199.2L877.3 227.2L878.5 199.2ZM915.5 201.7L916.7 213.9L917.9 201.7ZM923.8 202.2L925.0 222.2L926.2 202.2ZM938.1 215.5L939.3 253.9L940.5 215.5ZM950.5 205.0L951.7 213.9L952.9 205.0ZM957.1 206.0L958.3 218.9L959.5 206.0ZM977.1 209.1L978.3 232.2L979.5 209.1ZM976.1 208.6L977.3 235.2L978.5 208.6ZM982.1 211.5L983.3 226.9L984.5 211.5ZM997.1 228.7L998.3 250.2L999.5 228.7ZM1143.0 242.4L1144.2 256.9L1145.4 242.4ZM1062.6 285.6L1063.8 320.9L1065.0 285.6ZM1069.0 277.0L1070.2 320.9L1071.4 277.0ZM1081.8 270.7L1083.0 315.9L1084.2 270.7ZM1086.8 271.3L1088.0 315.9L1089.2 271.3ZM1093.2 262.9L1094.4 323.5L1095.6 262.9ZM1097.1 258.4L1098.3 307.9L1099.5 258.4ZM1113.6 256.2L1114.8 295.4L1116.0 256.2ZM1389.6 274.6L1390.8 299.1L1392.0 274.6ZM1414.8 298.5L1416.0 325.6L1417.2 298.5ZM1420.8 306.5L1422.0 337.7L1423.2 306.5ZM493.8 241.8L495.0 304.9L496.2 241.8ZM496.3 249.2L497.5 306.9L498.7 249.2ZM498.8 250.0L500.0 298.9L501.2 250.0ZM1152.3 240.3L1153.5 247.4L1154.7 240.3ZM1155.8 239.5L1157.0 247.4L1158.2 239.5ZM1164.1 240.1L1165.3 244.6L1166.5 240.1ZM1170.3 241.3L1171.5 244.6L1172.7 241.3ZM1177.3 241.6L1178.5 246.7L1179.7 241.6ZM1185.6 241.4L1186.8 247.4L1188.0 241.4ZM1190.5 241.4L1191.7 245.3L1192.9 241.4ZM1198.1 242.7L1199.3 248.1L1200.5 242.7ZM1203.7 245.8L1204.9 255.0L1206.1 245.8ZM1208.5 246.2L1209.7 254.3L1210.9 246.2ZM1218.9 242.6L1220.1 248.8L1221.3 242.6ZM1232.1 246.5L1233.3 250.9L1234.5 246.5ZM1234.9 246.1L1236.1 251.5L1237.3 246.1ZM1241.8 245.0L1243.0 250.1L1244.2 245.0ZM1246.0 244.6L1247.2 252.2L1248.4 244.6ZM1251.6 244.2L1252.8 248.1L1254.0 244.2ZM1259.9 244.7L1261.1 247.4L1262.3 244.7ZM1267.5 245.3L1268.8 250.9L1270.0 245.3ZM1275.2 243.4L1276.4 247.4L1277.6 243.4ZM1285.6 244.1L1286.8 257.1L1288.0 244.1ZM1293.9 245.8L1295.1 263.3L1296.3 245.8ZM1307.1 247.8L1308.3 253.6L1309.5 247.8ZM1317.5 250.1L1318.8 254.3L1320.0 250.1ZM1325.2 252.6L1326.4 267.5L1327.6 252.6ZM1334.9 255.8L1336.1 259.2L1337.3 255.8ZM1343.2 258.6L1344.4 264.0L1345.6 258.6ZM1352.3 261.0L1353.5 266.1L1354.7 261.0ZM1357.1 262.4L1358.3 270.3L1359.5 262.4ZM1372.8 268.9L1374.0 290.6L1375.2 268.9ZM1390.9 274.9L1392.1 297.9L1393.3 274.9ZM1559.5 301.4L1560.7 313.0L1561.9 301.4ZM1566.2 298.4L1567.4 310.0L1568.6 298.4ZM1667.7 299.6L1668.9 327.0L1670.1 299.6ZM1759.1 302.8L1760.3 310.5L1761.5 302.8ZM1761.3 302.7L1762.5 308.2L1763.7 302.7ZM1680.7 300.4L1681.9 303.7L1683.1 300.4ZM1689.8 300.1L1691.0 302.4L1692.2 300.1ZM1734.8 300.9L1736.0 305.1L1737.2 300.9ZM1745.1 301.4L1746.3 303.7L1747.5 301.4ZM1754.1 302.4L1755.3 306.4L1756.5 302.4ZM1772.1 301.9L1773.3 305.5L1774.5 301.9ZM1781.1 302.2L1782.3 304.2L1783.5 302.2ZM1794.7 303.6L1795.9 305.9L1797.1 303.6ZM1807.3 307.0L1808.5 309.9L1809.7 307.0ZM1818.2 306.8L1819.4 316.2L1820.6 306.8ZM1855.7 309.7L1856.9 318.4L1858.1 309.7ZM1860.6 310.2L1861.8 316.2L1863.0 310.2ZM1874.8 312.6L1876.0 316.8L1877.2 312.6ZM1903.0 313.7L1904.2 325.5L1905.4 313.7ZM1913.9 316.0L1915.1 322.2L1916.3 316.0ZM1921.5 316.5L1922.7 321.6L1923.9 316.5ZM1943.3 318.5L1944.5 327.6L1945.7 318.5ZM1959.6 319.3L1960.8 331.4L1962.0 319.3ZM1969.4 320.0L1970.6 329.8L1971.8 320.0ZM1973.8 320.4L1975.0 331.4L1976.2 320.4ZM1983.5 321.1L1984.7 333.6L1985.9 321.1ZM1992.3 321.8L1993.5 336.9L1994.7 321.8ZM1946.8 318.6L1948.0 323.9L1949.2 318.6ZM1986.8 321.4L1988.0 328.9L1989.2 321.4Z" fill="#231f20" stroke="#231f20" stroke-width="2.2" stroke-linejoin="round"/>
</svg></body></html>
